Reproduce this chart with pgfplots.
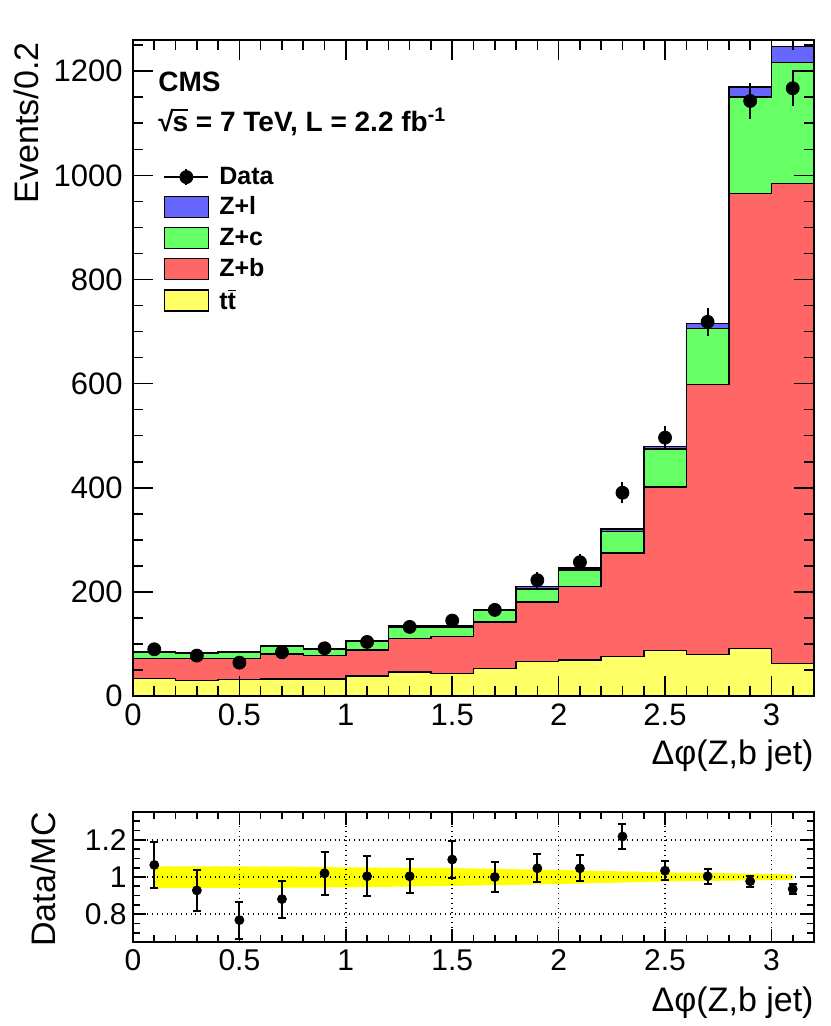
\documentclass[border=0pt]{standalone}
\usepackage{fontspec}
\setmainfont{Liberation Sans}
\usepackage{pgfplots}
\usepackage{pgfplotstable}
\pgfplotsset{compat=1.18}
\definecolor{zblue}{RGB}{102,102,255}
\definecolor{zgreen}{RGB}{102,255,102}
\definecolor{zred}{RGB}{255,102,102}
\definecolor{zyellow}{RGB}{255,255,102}
\definecolor{band}{RGB}{255,255,0}

\pgfplotstableread{
x    tt    zb     zc     zl
0.0  34    72.4   84     85
0.2  29.5  71.8   82.7   83.5
0.4  32    72     84     85
0.6  33    80.8   96     97
0.8  33    77.6   89.7   90.5
1.0  38.5  88.5   104.5  105.5
1.2  46    110.9  132.7  134
1.4  43.6  114    132.7  134
1.6  52.6  142.3  164    165.5
1.8  66.5  181    205.5  210
2.0  69    210.3  242.3  245.5
2.2  75.6  274.4  316    320.5
2.4  87.2  401.3  474.4  478.8
2.6  79.5  598.7  705.8  715.4
2.8  91.7  964.8  1150.6 1169.8
3.0  62.8  984.6  1216.7 1247.4
3.2  62.8  984.6  1216.7 1247.4
}\hist

\pgfplotstableread{
x    y      e
0.1  89.7   9.5
0.3  77.6   8.8
0.5  64     8
0.7  84     9.2
0.9  91.7   9.6
1.1  103.8  10.2
1.3  132.7  11.5
1.5  144.9  12
1.7  165.4  12.9
1.9  222.4  14.9
2.1  257    16
2.3  390.4  19.8
2.5  496.2  22.3
2.7  718.6  26.8
2.9  1142.9 33.8
3.1  1167.3 34.2
}\data

\pgfplotstableread{
x    r      e
0.1  1.065  0.122
0.3  0.928  0.111
0.5  0.768  0.100
0.7  0.881  0.100
0.9  1.020  0.115
1.1  1.004  0.107
1.3  1.004  0.092
1.5  1.094  0.100
1.7  1.000  0.082
1.9  1.047  0.075
2.1  1.047  0.070
2.3  1.218  0.065
2.5  1.034  0.050
2.7  1.004  0.040
2.9  0.977  0.029
3.1  0.935  0.029
}\ratio

\pgfplotstableread{
x    b
0.1  1.058
0.7  1.056
1.0  1.052
1.5  1.048
2.0  1.038
2.5  1.025
3.1  1.015
3.1  0.985
2.5  0.976
2.0  0.962
1.5  0.952
1.0  0.944
0.7  0.942
0.1  0.940
}\bandtab

\begin{document}
\begin{tikzpicture}
\pgfplotsset{
  cmsaxis/.style={
    scale only axis, width=340.5pt,
    xmin=0, xmax=3.2,
    xtick={0,0.5,...,3}, minor xtick={0,0.1,...,3.2},
    tick align=inside, tick pos=both,
    axis line style={line width=1pt},
    every tick/.style={black, line width=0.8pt},
    /pgf/number format/assume math mode=true,
    /pgf/number format/1000 sep={},
    axis on top,
  },
  histleg/.style={legend image code/.code={\draw[##1, line width=0.75pt] (0pt,-5.25pt) rectangle (22pt,5.25pt);}},
}
\begin{axis}[cmsaxis,
  at={(66.5pt,165pt)}, anchor=south west, height=328pt,
  ymin=0, ymax=1260,
  ytick={0,200,...,1200}, minor ytick={0,50,...,1250},
  major tick length=10pt, minor tick length=5pt,
  ticklabel style={font=\fontsize{15.5}{18}\selectfont},
  xticklabel style={anchor=base, yshift=-15pt},
  yticklabel style={inner sep=0pt, xshift=-5pt},
  xlabel={Δφ(Z,b jet)},
  xlabel style={at={(axis description cs:1,-0.1037)}, anchor=base east, inner sep=0pt, font=\fontsize{17}{20}\selectfont},
  ylabel={Events/0.2},
  ylabel style={at={(axis description cs:-0.139,0.997)}, anchor=base east, inner sep=0pt, font=\fontsize{17}{20}\selectfont},
  legend style={draw=none, fill=none, at={(axis description cs:0.044,0.807)}, anchor=north west,
    font=\fontsize{12.5}{15}\selectfont\bfseries, inner sep=0pt, row sep=4.3pt, column sep=5pt,
    nodes={inner sep=0pt, anchor=west}},
  legend cell align=left,
]
\addlegendimage{legend image code/.code={
  \draw[black, line width=1pt] (0pt,0pt) -- (22pt,0pt);
  \draw[black, line width=1pt] (11pt,-4pt) -- (11pt,4pt);
  \fill[black] (11pt,0pt) circle (3.25pt);}}
\addlegendentry{Data}
\addplot[histleg, const plot, fill=zblue, draw=black, line width=0.75pt] table[x=x,y=zl] {\hist} \closedcycle;
\addlegendentry{Z+l}
\addplot[histleg, const plot, fill=zgreen, draw=black, line width=0.75pt] table[x=x,y=zc] {\hist} \closedcycle;
\addlegendentry{Z+c}
\addplot[histleg, const plot, fill=zred, draw=black, line width=0.75pt] table[x=x,y=zb] {\hist} \closedcycle;
\addlegendentry{Z+b}
\addplot[histleg, const plot, fill=zyellow, draw=black, line width=0.75pt] table[x=x,y=tt] {\hist} \closedcycle;
\addlegendentry{t$\overline{\mbox{t}}$}
\addplot[only marks, mark=*, mark size=3.25pt, black, forget plot,
  error bars/.cd, y dir=both, y explicit, error mark=none,
  error bar style={line width=1pt, black}]
  table[x=x, y=y, y error=e] {\data};
\node[anchor=base west, inner sep=0pt, font=\fontsize{14}{16}\selectfont\bfseries] at (axis description cs:0.0367,0.921) {CMS};
\node[anchor=base west, inner sep=0pt, font=\fontsize{14}{16}\selectfont\bfseries] at (axis description cs:0.0367,0.860) {√\kern-0.6pt\rlap{\raisebox{10.6pt}{\rule{7.6pt}{0.6pt}}}s = 7 TeV, L = 2.2 fb\textsuperscript{-1}};
\end{axis}

\begin{axis}[cmsaxis,
  at={(66.5pt,42pt)}, anchor=south west, height=65pt,
  ymin=0.65, ymax=1.35,
  ytick={0.8,1,1.2}, minor ytick={0.65,0.7,...,1.35},
  major tick length=6.5pt, minor tick length=3.5pt,
  grid=major, major grid style={black, dotted, line width=0.8pt},
  ticklabel style={font=\fontsize{15}{18}\selectfont},
  xticklabel style={anchor=base, yshift=-14pt},
  yticklabel style={inner sep=0pt, xshift=-3pt},
  xlabel={Δφ(Z,b jet)},
  xlabel style={at={(axis description cs:1,-0.538)}, anchor=base east, inner sep=0pt, font=\fontsize{17}{20}\selectfont},
  ylabel={Data/MC},
  ylabel style={at={(axis description cs:-0.1145,1)}, anchor=base east, inner sep=0pt, font=\fontsize{17}{20}\selectfont},
]
\addplot[fill=band, draw=none] table[x=x, y=b] {\bandtab} -- cycle;
\addplot[only marks, mark=*, mark size=2.25pt, black,
  error bars/.cd, y dir=both, y explicit, error mark=|,
  error mark options={line width=1pt, mark size=2pt, black},
  error bar style={line width=1pt, black}]
  table[x=x, y=r, y error=e] {\ratio};
\end{axis}
\pgfresetboundingbox
\path[use as bounding box] (0,0) rectangle (415pt,513pt);
\end{tikzpicture}
\end{document}
